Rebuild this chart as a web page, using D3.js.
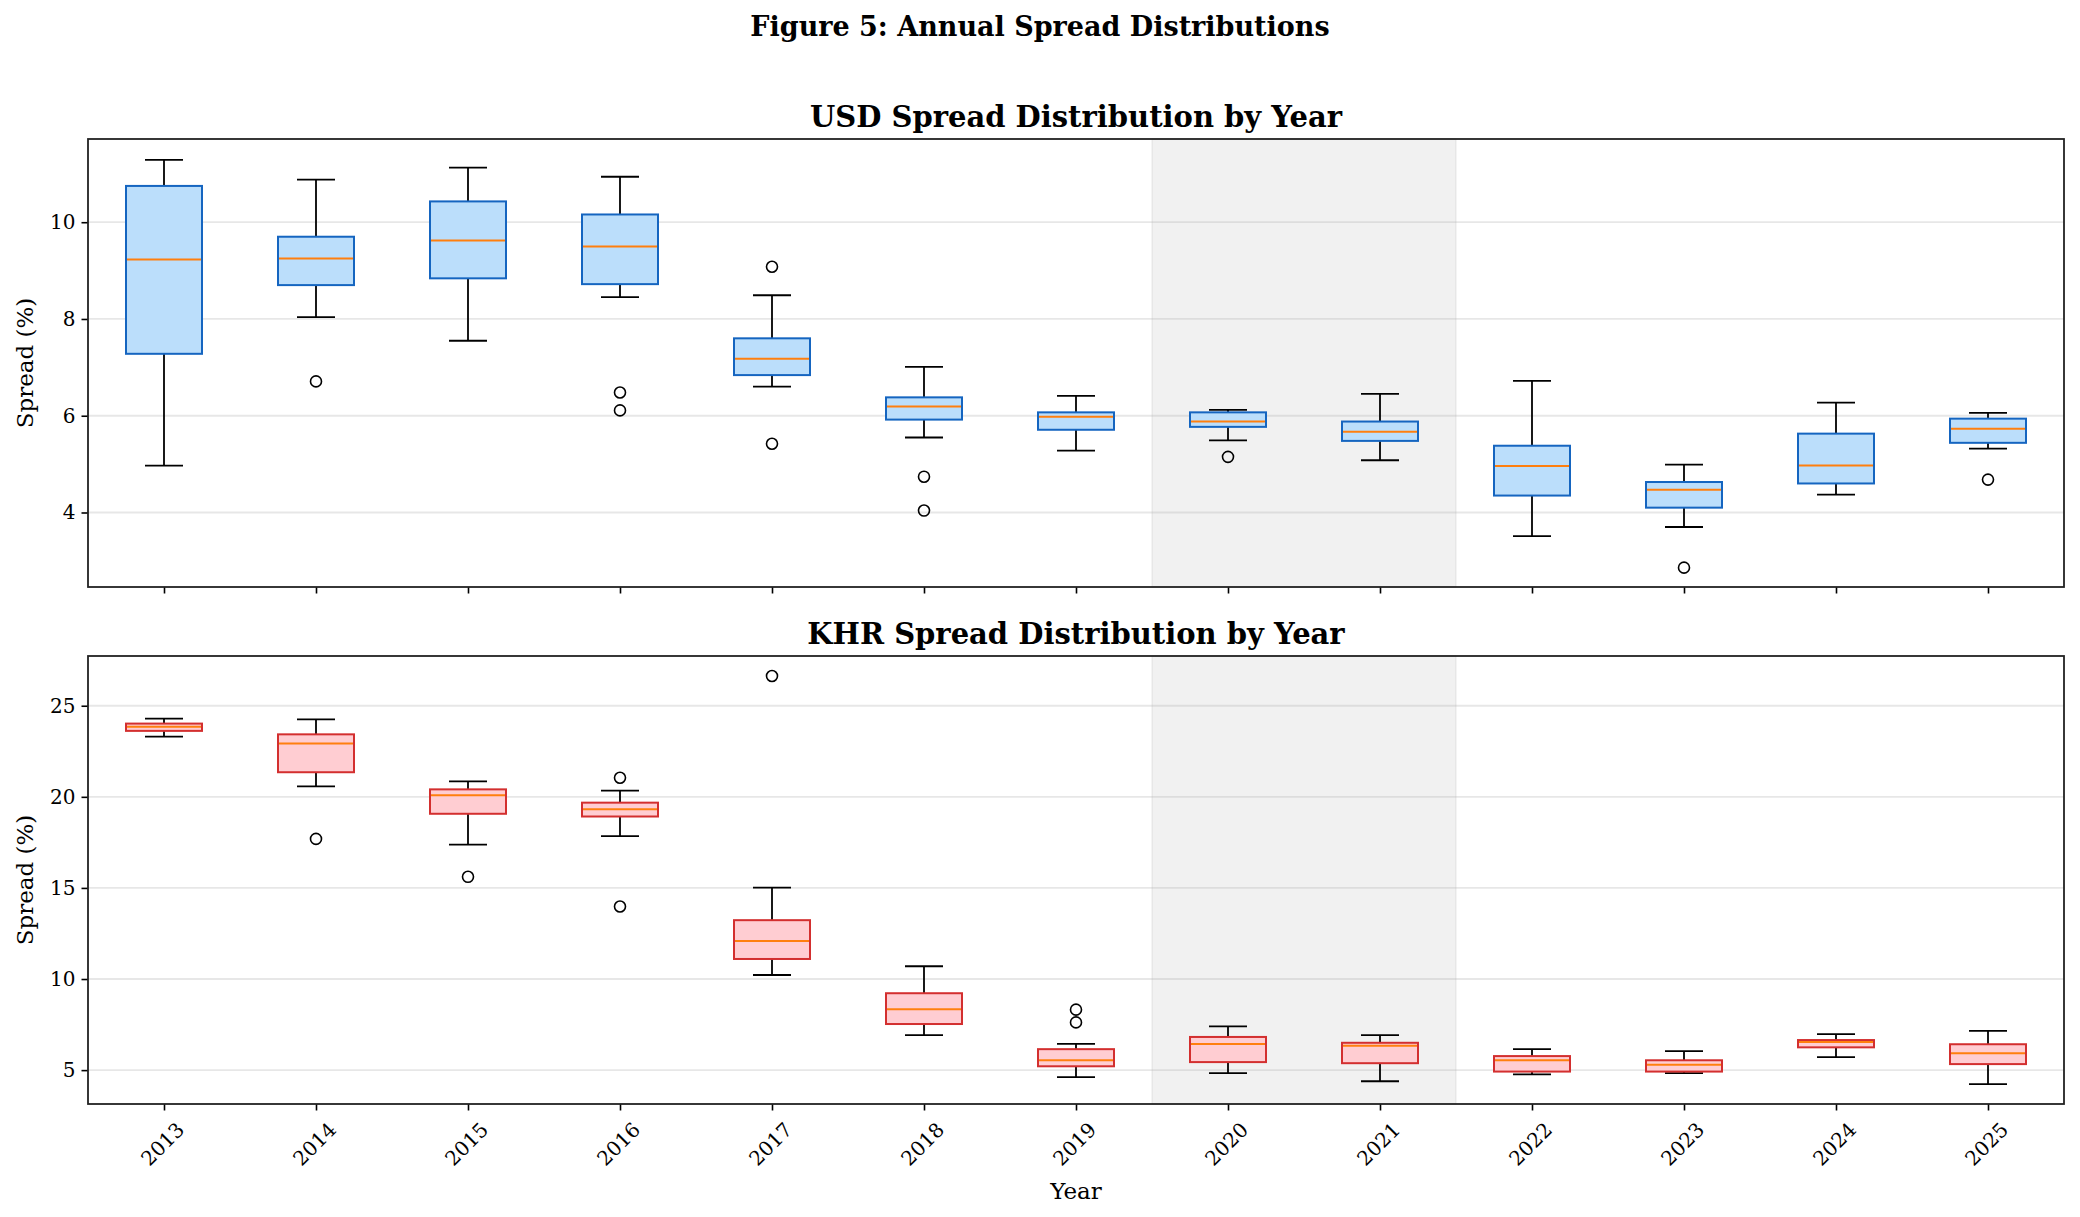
<!DOCTYPE html>
<html>
<head>
<meta charset="utf-8">
<script src="https://cdn.jsdelivr.net/npm/d3@7"></script>
<style>
  body { margin: 0; background: #fff; }
  svg { display: block; }
  text { font-family: 'DejaVu Serif', serif; fill: #000; }
</style>
</head>
<body>
<svg id="viz" width="2080" height="1217"></svg>
<script>
/* Data */

const years = ['2013', '2014', '2015', '2016', '2017', '2018', '2019', '2020', '2021', '2022', '2023', '2024', '2025'];
const shadedYears = ['2020', '2021'];

// USD box stats
const usdLow = [4.97, 8.04, 7.55, 8.45, 6.60, 5.55, 5.28, 5.49, 5.08, 3.51, 3.70, 4.37, 5.32];
const usdQ1 = [7.28, 8.70, 8.84, 8.72, 6.84, 5.92, 5.71, 5.77, 5.48, 4.35, 4.10, 4.60, 5.44];
const usdMedian = [9.23, 9.25, 9.62, 9.50, 7.18, 6.19, 5.98, 5.88, 5.67, 4.96, 4.47, 4.97, 5.73];
const usdQ3 = [10.75, 9.70, 10.43, 10.16, 7.60, 6.38, 6.07, 6.07, 5.88, 5.38, 4.63, 5.63, 5.94];
const usdHigh = [11.29, 10.88, 11.13, 10.94, 8.49, 7.01, 6.41, 6.12, 6.45, 6.72, 4.99, 6.27, 6.06];
const usdOutliers = [[], [6.71], [], [6.48, 6.11], [9.08, 5.42], [4.74, 4.04], [], [5.15], [], [], [2.86], [], [4.68]];

// KHR box stats
const khrLow = [23.31, 20.57, 17.38, 17.84, 10.22, 6.92, 4.62, 4.83, 4.39, 4.77, 4.83, 5.71, 4.23];
const khrQ1 = [23.62, 21.35, 19.07, 18.92, 11.10, 7.53, 5.21, 5.44, 5.38, 4.92, 4.92, 6.25, 5.33];
const khrMedian = [23.85, 22.93, 20.09, 19.32, 12.08, 8.34, 5.54, 6.44, 6.34, 5.54, 5.29, 6.54, 5.92];
const khrQ3 = [24.02, 23.43, 20.41, 19.68, 13.23, 9.22, 6.15, 6.82, 6.50, 5.77, 5.54, 6.65, 6.42];
const khrHigh = [24.29, 24.25, 20.85, 20.34, 15.02, 10.70, 6.44, 7.40, 6.92, 6.15, 6.04, 6.98, 7.15];
const khrOutliers = [[], [17.69], [15.61], [21.05, 13.98], [26.63], [], [8.32, 7.62], [], [], [], [], [], []];

const usdTicks = [4, 6, 8, 10];
const khrTicks = [5, 10, 15, 20, 25];

/* Layout */

const svg = d3.select('#viz');
const left = 88;
const right = 2064;

const x = d3.scalePoint().domain(years).range([left, right]).padding(0.5);
const step = x.step();

const panels = [
  {
    title: 'USD Spread Distribution by Year',
    top: 139, bottom: 587, domain: [2.46, 11.72], ticks: usdTicks,
    low: usdLow, q1: usdQ1, med: usdMedian, q3: usdQ3, high: usdHigh, out: usdOutliers,
    fill: '#bbdefb', stroke: '#1565c0', labels: false,
  },
  {
    title: 'KHR Spread Distribution by Year',
    top: 656, bottom: 1104, domain: [3.14, 27.73], ticks: khrTicks,
    low: khrLow, q1: khrQ1, med: khrMedian, q3: khrQ3, high: khrHigh, out: khrOutliers,
    fill: '#ffcdd2', stroke: '#d32f2f', labels: true,
  },
];

// figure title
svg.append('text')
  .attr('x', 1040)
  .attr('y', 36)
  .attr('text-anchor', 'middle')
  .style('font-size', '27px')
  .style('font-weight', 'bold')
  .text('Figure 5: Annual Spread Distributions');

panels.forEach((p) => {
  const y = d3.scaleLinear().domain(p.domain).range([p.bottom, p.top]);
  const g = svg.append('g');

  // shaded period
  g.append('rect')
    .attr('x', x(shadedYears[0]) - step / 2)
    .attr('y', p.top)
    .attr('width', step * shadedYears.length)
    .attr('height', p.bottom - p.top)
    .attr('fill', '#808080')
    .attr('fill-opacity', 0.11)
    .attr('stroke', '#808080')
    .attr('stroke-opacity', 0.12)
    .attr('stroke-width', 1.5);

  // grid
  g.append('g')
    .selectAll('line')
    .data(p.ticks)
    .join('line')
    .attr('x1', left)
    .attr('x2', right)
    .attr('y1', (d) => y(d))
    .attr('y2', (d) => y(d))
    .attr('stroke', '#b0b0b0')
    .attr('stroke-opacity', 0.3)
    .attr('stroke-width', 1.8);

  // y axis
  const yAxis = g.append('g')
    .attr('transform', 'translate(' + left + ',0)')
    .call(d3.axisLeft(y).tickValues(p.ticks).tickSize(6.5).tickPadding(6));
  yAxis.select('.domain').remove();
  yAxis.selectAll('line').attr('stroke', '#000').attr('stroke-width', 1.6);
  yAxis.selectAll('text').style('font-size', '20px').attr('font-family', null);

  // x axis
  const xAxis = g.append('g')
    .attr('transform', 'translate(0,' + p.bottom + ')')
    .call(d3.axisBottom(x).tickSize(6.5).tickFormat(p.labels ? null : ''));
  xAxis.select('.domain').remove();
  xAxis.selectAll('line').attr('stroke', '#000').attr('stroke-width', 1.6);
  xAxis.selectAll('text')
    .attr('font-family', null)
    .style('font-size', '20px')
    .attr('text-anchor', 'middle')
    .attr('dy', null)
    .attr('dominant-baseline', 'central')
    .attr('transform', 'translate(-2,40) rotate(-45)')
    .attr('y', 0);

  // whiskers
  const boxes = g.append('g')
    .selectAll('g')
    .data(years)
    .join('g')
    .attr('transform', (d) => 'translate(' + x(d) + ',0)');

  boxes.append('line')
    .attr('y1', (d, i) => y(p.low[i]))
    .attr('y2', (d, i) => y(p.q1[i]))
    .attr('stroke', '#000')
    .attr('stroke-width', 1.8);
  boxes.append('line')
    .attr('y1', (d, i) => y(p.q3[i]))
    .attr('y2', (d, i) => y(p.high[i]))
    .attr('stroke', '#000')
    .attr('stroke-width', 1.8);

  // caps
  [p.low, p.high].forEach((arr) => {
    boxes.append('line')
      .attr('x1', -step * 0.125)
      .attr('x2', step * 0.125)
      .attr('y1', (d, i) => y(arr[i]))
      .attr('y2', (d, i) => y(arr[i]))
      .attr('stroke', '#000')
      .attr('stroke-width', 1.8);
  });

  // box
  boxes.append('rect')
    .attr('x', -step * 0.25)
    .attr('width', step * 0.5)
    .attr('y', (d, i) => y(p.q3[i]))
    .attr('height', (d, i) => y(p.q1[i]) - y(p.q3[i]))
    .attr('fill', p.fill)
    .attr('stroke', p.stroke)
    .attr('stroke-width', 2);

  // median
  boxes.append('line')
    .attr('x1', -step * 0.25 + 1)
    .attr('x2', step * 0.25 - 1)
    .attr('y1', (d, i) => y(p.med[i]))
    .attr('y2', (d, i) => y(p.med[i]))
    .attr('stroke', '#ff7f0e')
    .attr('stroke-width', 2);

  // outliers
  boxes.selectAll('circle')
    .data((d, i) => p.out[i])
    .join('circle')
    .attr('cx', 0)
    .attr('cy', (v) => y(v))
    .attr('r', 5.5)
    .attr('fill', 'none')
    .attr('stroke', '#000')
    .attr('stroke-width', 1.6);

  // frame
  g.append('rect')
    .attr('x', left)
    .attr('y', p.top)
    .attr('width', right - left)
    .attr('height', p.bottom - p.top)
    .attr('fill', 'none')
    .attr('stroke', '#222')
    .attr('stroke-width', 1.8);

  // panel title
  g.append('text')
    .attr('x', (left + right) / 2)
    .attr('y', p.top - 12)
    .attr('text-anchor', 'middle')
    .style('font-size', '29px')
    .style('font-weight', 'bold')
    .text(p.title);

  // y label
  g.append('text')
    .attr('transform', 'translate(33,' + (p.top + p.bottom) / 2 + ') rotate(-90)')
    .attr('text-anchor', 'middle')
    .style('font-size', '23px')
    .text('Spread (%)');
});

// x label
svg.append('text')
  .attr('x', (left + right) / 2)
  .attr('y', 1199)
  .attr('text-anchor', 'middle')
  .style('font-size', '23px')
  .text('Year');
</script>
</body>
</html>
